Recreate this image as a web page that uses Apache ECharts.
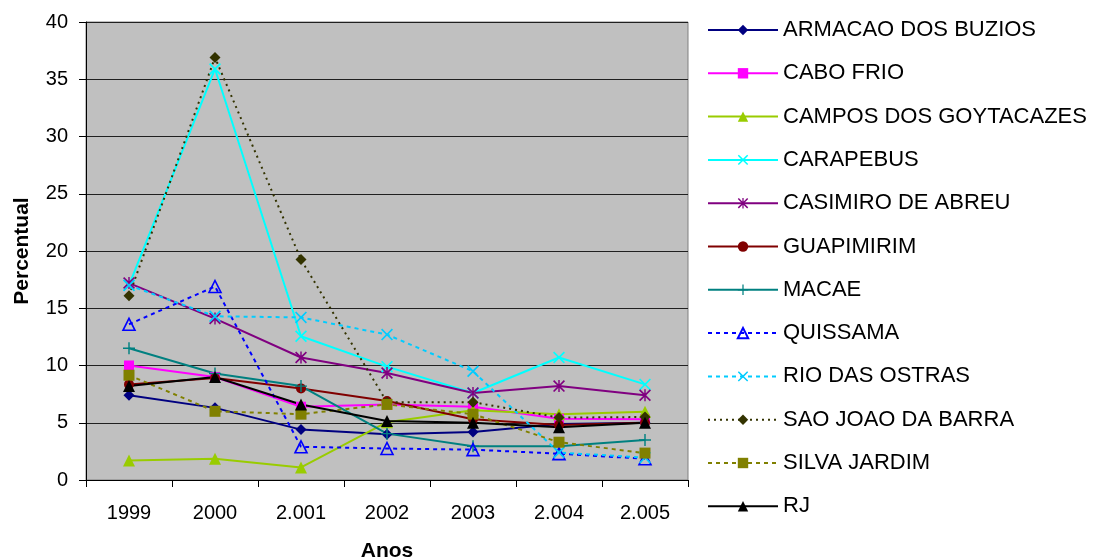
<!DOCTYPE html>
<html>
<head>
<meta charset="utf-8">
<script src="https://cdn.jsdelivr.net/npm/echarts@6/dist/echarts.min.js"></script>
<style>
  html, body { margin: 0; padding: 0; background: #fff; }
  #chart { width: 1093px; height: 559px; }
</style>
</head>
<body>
<div id="chart"></div>
<script>
// Year labels along the horizontal axis
const anos = ['1999', '2000', '2.001', '2002', '2003', '2.004', '2.005'];

// Percentual per municipality, 1999 to 2005
const armacaoDosBuzios   = [7.4, 6.3, 4.4, 4.0, 4.2, 4.9, 5.0];
const caboFrio           = [10.0, 9.0, 6.4, 6.6, 6.4, 5.35, 5.3];
const camposGoytacazes   = [1.7, 1.85, 1.1, 5.05, 6.1, 5.75, 5.95];
const carapebus          = [17.0, 35.9, 12.55, 9.9, 7.6, 10.7, 8.35];
const casimiroDeAbreu    = [17.2, 14.1, 10.7, 9.35, 7.6, 8.2, 7.4];
const guapimirim         = [8.35, 8.9, 8.0, 6.9, 5.3, 4.8, 5.0];
const macae              = [11.5, 9.3, 8.2, 4.05, 2.95, 2.95, 3.5];
const quissama           = [13.6, 16.9, 2.9, 2.75, 2.65, 2.3, 1.85];
const rioDasOstras       = [17.0, 14.3, 14.2, 12.7, 9.5, 2.4, 1.95];
const saoJoaoDaBarra     = [16.1, 36.9, 19.25, 6.8, 6.8, 5.45, 5.5];
const silvaJardim        = [9.15, 6.0, 5.75, 6.6, 5.75, 3.3, 2.35];
const rj                 = [8.2, 9.0, 6.6, 5.15, 5.0, 4.6, 5.0];

// Custom marker outlines
const X_PATH = 'path://M0,1 L1,0 L5,4 L9,0 L10,1 L6,5 L10,9 L9,10 L5,6 L1,10 L0,9 L4,5 Z';
const PLUS_PATH = 'path://M4.4,0 L5.6,0 L5.6,4.4 L10,4.4 L10,5.6 L5.6,5.6 L5.6,10 L4.4,10 L4.4,5.6 L0,5.6 L0,4.4 L4.4,4.4 Z';
const STAR_PATH = 'path://M0,1 L1,0 L5,4 L9,0 L10,1 L6,5 L10,9 L9,10 L5,6 L1,10 L0,9 L4,5 Z M4.4,0 L5.6,0 L5.6,10 L4.4,10 Z';

const FONT = 'Liberation Sans, Arial, sans-serif';

const seriesDefs = [
  { name: 'ARMACAO DOS BUZIOS', data: armacaoDosBuzios, color: '#000080', symbol: 'diamond', size: 11 },
  { name: 'CABO FRIO', data: caboFrio, color: '#FF00FF', symbol: 'rect', size: 10 },
  { name: 'CAMPOS DOS GOYTACAZES', data: camposGoytacazes, color: '#99CC00', symbol: 'triangle', size: 12 },
  { name: 'CARAPEBUS', data: carapebus, color: '#00FFFF', symbol: X_PATH, size: 12 },
  { name: 'CASIMIRO DE ABREU', data: casimiroDeAbreu, color: '#800080', symbol: STAR_PATH, size: 12 },
  { name: 'GUAPIMIRIM', data: guapimirim, color: '#800000', symbol: 'circle', size: 10 },
  { name: 'MACAE', data: macae, color: '#008080', symbol: PLUS_PATH, size: 12 },
  { name: 'QUISSAMA', data: quissama, color: '#0000FF', symbol: 'triangle', size: 12, hollow: true, dash: [4, 4] },
  { name: 'RIO DAS OSTRAS', data: rioDasOstras, color: '#00CCFF', symbol: X_PATH, size: 12, dash: [4, 4] },
  { name: 'SAO JOAO DA BARRA', data: saoJoaoDaBarra, color: '#333300', symbol: 'diamond', size: 11, dash: [2, 4] },
  { name: 'SILVA JARDIM', data: silvaJardim, color: '#808000', symbol: 'rect', size: 11, dash: [4, 4] },
  { name: 'RJ', data: rj, color: '#000000', symbol: 'triangle', size: 12 }
];

const series = seriesDefs.map(d => ({
  name: d.name,
  type: 'line',
  data: d.data,
  symbol: d.symbol,
  symbolSize: d.size,
  showAllSymbol: true,
  animation: false,
  lineStyle: { color: d.color, width: 2, type: d.dash || 'solid' },
  itemStyle: d.hollow
    ? { color: 'rgba(0,0,0,0)', borderColor: d.color, borderWidth: 1.6 }
    : { color: d.color, borderColor: d.color, borderWidth: 0 },
  emphasis: { disabled: true }
}));

const chart = echarts.init(document.getElementById('chart'), null, { renderer: 'canvas' });
chart.setOption({
  backgroundColor: '#ffffff',
  animation: false,
  textStyle: { fontFamily: FONT },
  grid: {
    left: 86, right: 405, top: 22, bottom: 79,
    containLabel: false,
    outerBoundsMode: 'none',
    show: true,
    backgroundColor: '#C0C0C0',
    borderColor: '#808080',
    borderWidth: 1
  },
  legend: {
    orient: 'vertical',
    left: 702,
    top: 13,
    itemWidth: 70,
    itemHeight: 13,
    itemGap: 19.3,
    selectedMode: false,
    textStyle: { fontSize: 22, color: '#000', lineHeight: 24, fontFamily: FONT },
    data: seriesDefs.map(d => d.name)
  },
  xAxis: {
    type: 'category',
    data: anos,
    boundaryGap: true,
    name: 'Anos',
    nameLocation: 'middle',
    nameGap: 61,
    nameTextStyle: { fontSize: 21, fontWeight: 'bold', color: '#000', fontFamily: FONT },
    axisLine: { lineStyle: { color: '#000', width: 1 } },
    axisTick: { show: true, length: 7, alignWithLabel: false, lineStyle: { color: '#000' } },
    axisLabel: { fontSize: 20, color: '#000', margin: 23, fontFamily: FONT },
    splitLine: { show: false }
  },
  yAxis: {
    type: 'value',
    min: 0,
    max: 40,
    interval: 5,
    name: 'Percentual',
    nameLocation: 'middle',
    nameGap: 53,
    nameRotate: 90,
    nameTextStyle: { fontSize: 21, fontWeight: 'bold', color: '#000', fontFamily: FONT },
    axisLine: { show: true, lineStyle: { color: '#000', width: 1 } },
    axisTick: { show: true, length: 7, lineStyle: { color: '#000' } },
    axisLabel: { fontSize: 20, color: '#000', margin: 18, fontFamily: FONT },
    splitLine: { show: true, lineStyle: { color: '#202020', width: 1 } }
  },
  series: series
});
</script>
</body>
</html>
